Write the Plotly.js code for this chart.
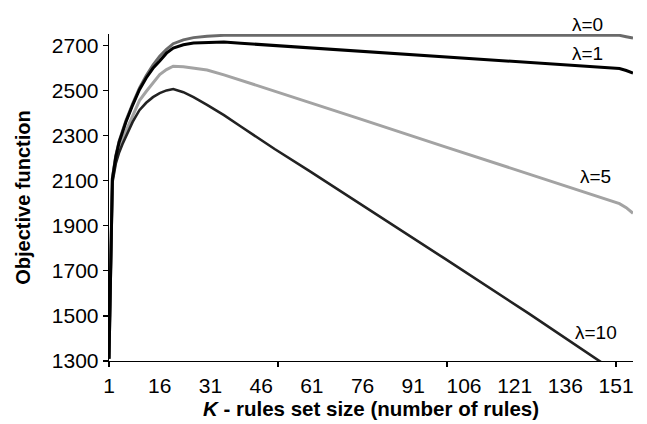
<!DOCTYPE html>
<html>
<head>
<meta charset="utf-8">
<script src="https://cdn.plot.ly/plotly-3.0.1.min.js"></script>
<style>
  html, body { margin: 0; padding: 0; background: #fff; }
  #chart { width: 647px; height: 424px; }
</style>
</head>
<body>
<div id="chart"></div>
<script>
const K = [1, 2, 3, 4, 5, 6, 8, 10, 12, 14, 16, 18, 20, 23, 26, 30, 35, 40, 50, 60, 75, 100, 125, 150, 152, 154, 156];

const lambda0  = [1310, 2110, 2210, 2275, 2320, 2365, 2440, 2510, 2565, 2612, 2651, 2682, 2707, 2724, 2734, 2740, 2744, 2745, 2745, 2745, 2745, 2745, 2745, 2745, 2744, 2738, 2732];
const lambda1  = [1310, 2108, 2205, 2270, 2315, 2360, 2435, 2503, 2555, 2598, 2630, 2665, 2688, 2702, 2710, 2713, 2714, 2709, 2699, 2688, 2673, 2649, 2624, 2600, 2597, 2588, 2577];
const lambda5  = [1310, 2100, 2190, 2245, 2285, 2320, 2390, 2455, 2495, 2535, 2570, 2592, 2607, 2605, 2599, 2590, 2569, 2545, 2497, 2448, 2375, 2252, 2130, 2008, 1998, 1980, 1955];
const lambda10 = [1310, 2090, 2175, 2225, 2262, 2295, 2360, 2412, 2445, 2470, 2488, 2500, 2506, 2492, 2470, 2436, 2390, 2340, 2240, 2145, 2000, 1757, 1512, 1262, 1242, 1222, 1200];

const seriesNames = ['λ=0', 'λ=1', 'λ=5', 'λ=10'];
const xTickVals = [1, 16, 31, 46, 61, 76, 91, 106, 121, 136, 151];
const xMarkVals = [1, 51, 101, 151];
const yTickVals = [1300, 1500, 1700, 1900, 2100, 2300, 2500, 2700];

const FONT = 'Liberation Sans, Arial, sans-serif';

const traces = [
  {x: K, y: lambda0,  name: seriesNames[0], mode: 'lines', line: {color: '#6a6a6a', width: 3}},
  {x: K, y: lambda5,  name: seriesNames[2], mode: 'lines', line: {color: '#a3a3a3', width: 3}},
  {x: K, y: lambda10, name: seriesNames[3], mode: 'lines', line: {color: '#222222', width: 2.6}},
  {x: K, y: lambda1,  name: seriesNames[1], mode: 'lines', line: {color: '#000000', width: 3}},
  {x: [], y: [], xaxis: 'x2', showlegend: false, hoverinfo: 'skip'}
];

const labelFont = {family: FONT, size: 19, color: '#000'};

const layout = {
  width: 647,
  height: 424,
  margin: {l: 109, r: 14, t: 34, b: 63},
  paper_bgcolor: '#fff',
  plot_bgcolor: '#fff',
  showlegend: false,
  font: {family: FONT, color: '#000'},
  xaxis: {
    range: [1, 156],
    tickmode: 'array',
    tickvals: xTickVals,
    ticktext: xTickVals.map(String),
    ticks: '',
    ticklabelstandoff: 5,
    showgrid: false,
    zeroline: false,
    showline: true,
    linecolor: '#000',
    linewidth: 1.3,
    tickfont: {family: FONT, size: 21, color: '#000'},
    title: {text: '<i>K</i> - rules set size (number of rules)', font: {family: FONT, size: 20.5, color: '#000', weight: 'bold'}, standoff: 6}
  },
  xaxis2: {
    overlaying: 'x',
    matches: 'x',
    range: [1, 156],
    anchor: 'y',
    side: 'bottom',
    tickmode: 'array',
    tickvals: xMarkVals,
    ticks: 'outside',
    ticklen: 5,
    tickwidth: 1.3,
    tickcolor: '#000',
    showticklabels: false,
    showgrid: false,
    zeroline: false,
    showline: false
  },
  yaxis: {
    range: [1300, 2750],
    tickmode: 'array',
    tickvals: yTickVals,
    ticks: 'outside',
    ticklen: 5,
    tickwidth: 1.3,
    tickcolor: '#000',
    showgrid: false,
    zeroline: false,
    showline: true,
    linecolor: '#000',
    linewidth: 1.3,
    tickfont: {family: FONT, size: 21, color: '#000'},
    title: {text: 'Objective function', font: {family: FONT, size: 20, color: '#000', weight: 'bold'}, standoff: 15}
  },
  annotations: [
    {x: 142.5, y: 2745, yshift: 11, xref: 'x', yref: 'y', text: seriesNames[0], showarrow: false, font: labelFont},
    {x: 142.5, y: 2663, xref: 'x', yref: 'y', text: seriesNames[1], showarrow: false, font: labelFont},
    {x: 145, y: 2120, xref: 'x', yref: 'y', text: seriesNames[2], showarrow: false, font: labelFont},
    {x: 145, y: 1428, xref: 'x', yref: 'y', text: seriesNames[3], showarrow: false, font: labelFont}
  ]
};

Plotly.newPlot('chart', traces, layout, {displayModeBar: false, staticPlot: true});
</script>
</body>
</html>
